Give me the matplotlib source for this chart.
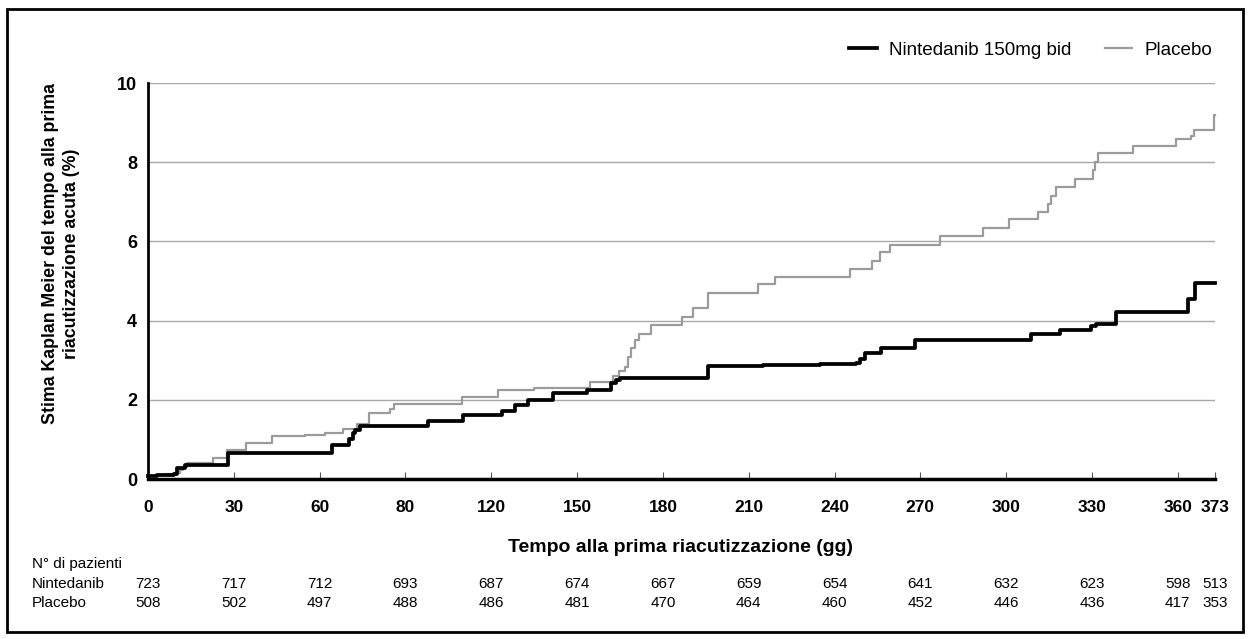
import matplotlib.pyplot as plt
import matplotlib.transforms as mtransforms
from matplotlib.lines import Line2D
from matplotlib.patches import Rectangle

plt.rcParams['font.family'] = ['Liberation Sans', 'DejaVu Sans']

# Kaplan-Meier estimate (%) of time to first acute exacerbation, step by step
nin_days = [0, 3, 6, 9, 10, 12.9, 28, 64.2, 70.3, 71.5, 72.5, 74, 97.8, 110.2,
            123.6, 128.2, 132.9, 141.6, 153.5, 162, 163.5, 165, 195.8, 215, 235,
            247.6, 249, 250.7, 256.3, 268, 308.8, 318.7, 329.7, 331.5, 338.5,
            363.5, 366, 373]
nin_pct = [0.07, 0.09, 0.11, 0.13, 0.28, 0.35, 0.65, 0.86, 1.0, 1.15, 1.24, 1.34,
           1.47, 1.62, 1.72, 1.87, 2.0, 2.16, 2.26, 2.42, 2.5, 2.55, 2.86, 2.88,
           2.9, 2.94, 3.04, 3.19, 3.32, 3.5, 3.66, 3.77, 3.86, 3.92, 4.22, 4.54,
           4.94, 4.94]

pla_days = [0, 3, 6, 9, 11.2, 12.3, 13.5, 22.8, 27.7, 34.2, 43.2, 55, 62, 68.2,
            72.9, 77.3, 84.5, 86, 109.6, 122.4, 135, 145, 154.4, 162.4, 164.8,
            166.6, 167.7, 168.7, 170.1, 171.8, 176, 186.8, 190.5, 195.8, 213.3,
            219.1, 245.3, 253, 256, 259.3, 277, 291.9, 301, 311, 314.6, 315.8,
            317.5, 324.2, 330.3, 331, 332, 344.3, 359.4, 364.7, 365.8, 372.8, 373]
pla_pct = [0.08, 0.1, 0.12, 0.15, 0.23, 0.3, 0.4, 0.54, 0.73, 0.9, 1.09, 1.12,
           1.15, 1.26, 1.38, 1.66, 1.76, 1.89, 2.08, 2.26, 2.29, 2.31, 2.46, 2.6,
           2.72, 2.84, 3.09, 3.3, 3.51, 3.66, 3.89, 4.1, 4.31, 4.69, 4.92, 5.11,
           5.3, 5.51, 5.74, 5.91, 6.14, 6.33, 6.56, 6.73, 6.94, 7.15, 7.37, 7.58,
           7.8, 8.0, 8.22, 8.41, 8.58, 8.66, 8.81, 9.19, 9.19]

tick_days = [0, 30, 60, 90, 120, 150, 180, 210, 240, 270, 300, 330, 360, 373]
tick_labels = ['0', '30', '60', '80', '120', '150', '180', '210', '240', '270',
               '300', '330', '360', '373']

at_risk_nin = [723, 717, 712, 693, 687, 674, 667, 659, 654, 641, 632, 623, 598, 513]
at_risk_pla = [508, 502, 497, 488, 486, 481, 470, 464, 460, 452, 446, 436, 417, 353]

W, H = 1250, 639
fig = plt.figure(figsize=(W / 100, H / 100), dpi=100)
ax = fig.add_axes([148 / W, 1 - 479 / H, (1215 - 148) / W, (479 - 83) / H])

gray = '#9b9b9b'
ax.plot(pla_days, pla_pct, drawstyle='steps-post', color=gray, lw=1.6,
        zorder=3, clip_on=False)
ax.plot(nin_days, nin_pct, drawstyle='steps-post', color='black', lw=2.7,
        zorder=4, clip_on=False)

ax.set_xlim(0, 373)
ax.set_ylim(0, 10)
ax.set_yticks([0, 2, 4, 6, 8, 10])
ax.yaxis.grid(True, color='#a8a8a8', lw=1)
ax.set_axisbelow(True)
ax.set_xticks(tick_days)
ax.set_xticklabels(tick_labels)

ax.tick_params(axis='y', length=0, pad=8, labelsize=13)
ax.tick_params(axis='x', direction='in', length=5, width=0.8, color='#555555',
               pad=15, labelsize=12.5)
for lab in ax.get_xticklabels() + ax.get_yticklabels():
    lab.set_fontweight('bold')

for side in ('top', 'right'):
    ax.spines[side].set_visible(False)
ax.spines['left'].set_linewidth(2)
ax.spines['bottom'].set_linewidth(2.5)

fig.text(681 / W, 1 - 548 / H, 'Tempo alla prima riacutizzazione (gg)',
         ha='center', va='center', fontsize=14, fontweight='bold')
fig.text(61 / W, 1 - 254 / H,
         'Stima Kaplan Meier del tempo alla prima\nriacutizzazione acuta (%)',
         rotation=90, ha='center', va='center', multialignment='center',
         fontsize=12.8, fontweight='bold', linespacing=1.35)

# number at risk table under the axis
fig.text(32 / W, 1 - 564 / H, 'N° di pazienti', fontsize=11, va='center')
fig.text(32 / W, 1 - 584 / H, 'Nintedanib', fontsize=11, va='center')
fig.text(32 / W, 1 - 603 / H, 'Placebo', fontsize=11, va='center')
trans = mtransforms.blended_transform_factory(ax.transData, fig.transFigure)
for d, n1, n2 in zip(tick_days, at_risk_nin, at_risk_pla):
    fig.text(d, 1 - 584 / H, str(n1), transform=trans, ha='center',
             va='center', fontsize=11)
    fig.text(d, 1 - 603 / H, str(n2), transform=trans, ha='center',
             va='center', fontsize=11)

handles = [Line2D([], [], color='black', lw=2.7),
           Line2D([], [], color=gray, lw=1.6)]
fig.legend(handles, ['Nintedanib 150mg bid', 'Placebo'], loc='center right',
           bbox_to_anchor=(1212 / W, 1 - 50 / H), ncol=2, frameon=False,
           fontsize=13.6, handlelength=1.45, handletextpad=0.65,
           columnspacing=1.75, borderpad=0, borderaxespad=0)

fig.add_artist(Rectangle((7 / W, 7 / H), 1236 / W, 623 / H,
                         transform=fig.transFigure, fill=False, lw=2,
                         ec='black'))

fig.savefig('out.png', dpi=100)
